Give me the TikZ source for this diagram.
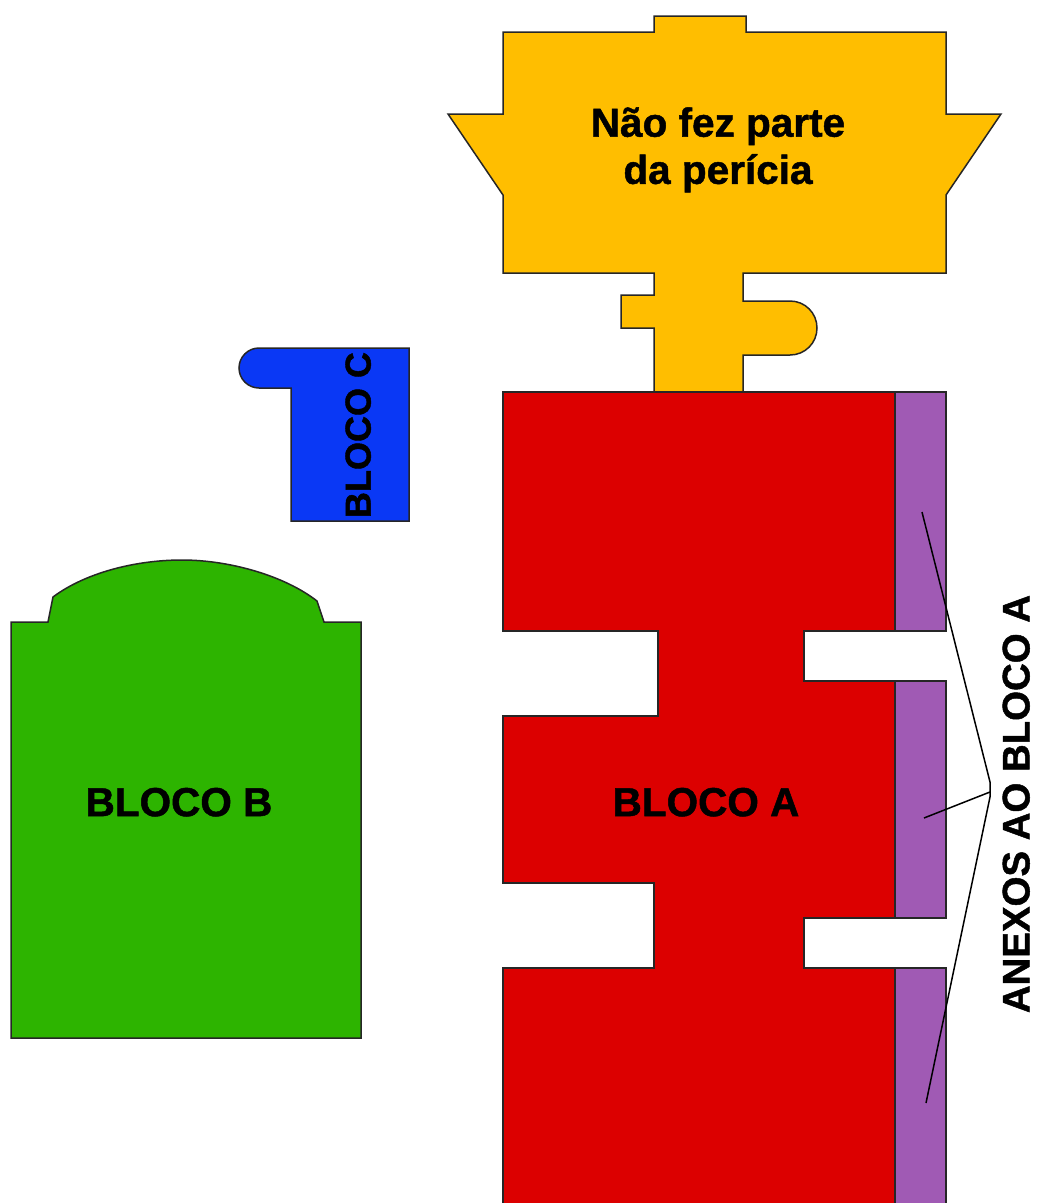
\documentclass[tikz,border=0pt]{standalone}
\usepackage{fontspec}
\setmainfont[BoldFeatures={FakeBold=1.2}]{Liberation Sans}
\definecolor{yel}{HTML}{FFBE00}
\definecolor{redb}{HTML}{DC0000}
\definecolor{pur}{HTML}{A05AB4}
\definecolor{grn}{HTML}{2DB400}
\definecolor{blu}{HTML}{0A38F5}
\tikzset{
  block/.style={draw=black!85,line width=1.5pt,line join=miter},
  lab/.style={inner sep=0pt,text depth=0pt,font=\bfseries\fontsize{#1}{#1}\selectfont},
  leader/.style={draw=black,line width=1.5pt}
}
\begin{document}
\begin{tikzpicture}[x=1pt,y=-1pt]
\useasboundingbox (0,0) rectangle (1037,1203);
% yellow
\path[block,fill=yel] (503,32) -- (654,32) -- (654,16) -- (746,16) -- (746,32) -- (946,32) -- (946,114) -- (1001,114) -- (946,195) -- (946,273) -- (743,273) -- (743,301) -- (790,301)
  .. controls (805,301) and (817,313) .. (817,328) .. controls (817,343) and (805,355) .. (790,355)
  -- (743,355) -- (743,392) -- (654,392) -- (654,328) -- (621,328) -- (621,295) -- (654,295) -- (654,273) -- (503,273) -- (503,195) -- (448,114) -- (503,114) -- cycle;
% red
\path[block,fill=redb] (503,392) -- (895,392) -- (895,631) -- (804,631) -- (804,681) -- (895,681) -- (895,918) -- (804,918) -- (804,968) -- (895,968) -- (895,1215) -- (503,1215) -- (503,968) -- (654,968) -- (654,883) -- (503,883) -- (503,716) -- (658,716) -- (658,631) -- (503,631) -- cycle;
% annexes
\path[block,fill=pur] (895,392) rectangle (946,631);
\path[block,fill=pur] (895,681) rectangle (946,918);
\path[block,fill=pur] (895,968) rectangle (946,1215);
% green
\path[block,fill=grn] (11,622) -- (48,622) -- (53,597)
  .. controls (85,573) and (135,560) .. (182,560)
  .. controls (230,560) and (285,576) .. (317,601)
  -- (324,622) -- (361,622) -- (361,1038) -- (11,1038) -- cycle;
% blue
\path[block,fill=blu] (409,348) -- (409,521) -- (291,521) -- (291,388) -- (259,388)
  .. controls (248,388) and (239,379) .. (239,368) .. controls (239,357) and (248,348) .. (259,348) -- cycle;
% labels
\node[lab=40.5] (naofez) at (718,122) {Não fez parte};
\node[lab=40.5] (daper) at (718,169) {da perícia};
\node[lab=40.5] (blocoa) at (706,802) {BLOCO A};
\node[lab=40.5] (blocob) at (179,802) {BLOCO B};
\node[lab=36,rotate=90] (blococ) at (358,435) {BLOCO C};
\node[lab=38.4,rotate=90] (anexos) at (1016,804) {ANEXOS AO BLOCO A};
% leaders
\coordinate (apex1) at (990,782);
\coordinate (apex2) at (990,792);
\coordinate (apex3) at (990,797);
\coordinate (end1) at (922,512);
\coordinate (end2) at (924,818);
\coordinate (end3) at (926,1103);
\draw[leader] (end1) -- (apex1) -- (apex3) -- (end3);
\draw[leader] (end2) -- (apex2);
\end{tikzpicture}
\end{document}
